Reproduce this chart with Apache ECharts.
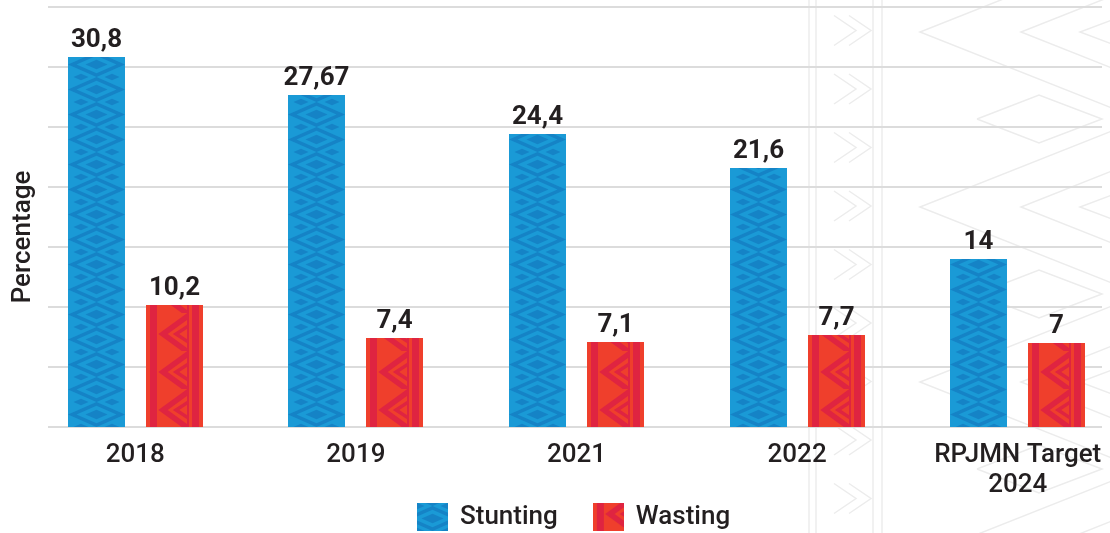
<!DOCTYPE html>
<html><head><meta charset="utf-8">
<script src="https://cdn.jsdelivr.net/npm/echarts@6/dist/echarts.min.js"></script>
<style>html,body{margin:0;padding:0;background:#fff}#c{width:1110px;height:533px}</style>
</head><body><div id="c"></div>
<script>
// ---- data ----
var categories = ['2018', '2019', '2021', '2022', 'RPJMN Target\n2024'];
var stunting = [30.8, 27.67, 24.4, 21.6, 14];
var wasting = [10.2, 7.4, 7.1, 7.7, 7];
var seriesNames = ['Stunting', 'Wasting'];
var yMin = 0, yMax = 35, yInterval = 5;
var yAxisTitle = 'Percentage';

// ---- styles ----
var TEXT = '#231f20';
var FONT = 'Roboto';
var BAR_W = 57, BAR_GAP = 21;

function dia(g, cx, cy, hw, hh, col) {
  g.beginPath(); g.moveTo(cx - hw, cy); g.lineTo(cx, cy - hh); g.lineTo(cx + hw, cy); g.lineTo(cx, cy + hh); g.closePath();
  g.fillStyle = col; g.fill();
}
function blueTile() {
  var c = document.createElement('canvas'); c.width = 57; c.height = 25;
  var g = c.getContext('2d');
  var L = '#1a9ad6', D = '#1583c6';
  g.fillStyle = L; g.fillRect(0, 0, 57, 25);
  dia(g, 28.5, 12.5, 28.5, 12.5, D);
  dia(g, 28.5, 12.5, 20, 8.8, L);
  dia(g, 28.5, 12.5, 11, 4.8, D);
  [0, 25].forEach(function (y) { dia(g, 13, y, 7.5, 3.3, D); dia(g, 44, y, 7.5, 3.3, D); });
  return c;
}
function redTile() {
  var c = document.createElement('canvas'); c.width = 57; c.height = 38;
  var g = c.getContext('2d');
  var B = '#ef3f2c', D = '#df2441';
  g.fillStyle = B; g.fillRect(0, 0, 57, 38);
  g.fillStyle = D; g.fillRect(4, 0, 7, 38); g.fillRect(46, 0, 7, 38); g.fillRect(41, 0, 2, 38);
  g.save(); g.beginPath(); g.rect(0, 0, 42, 38); g.clip();
  g.strokeStyle = D; g.lineJoin = 'miter';
  g.lineWidth = 5.5; g.beginPath(); g.moveTo(46, 0); g.lineTo(17, 21); g.lineTo(46, 42); g.stroke();
  g.lineWidth = 3.5; g.beginPath(); g.moveTo(44, 12); g.lineTo(30, 21); g.lineTo(44, 30); g.stroke();
  g.restore();
  return c;
}
var tiles = { blue: blueTile(), red: redTile() };
var cache = {};
function barImage(kind, w, h) {
  var key = kind + '_' + w + '_' + h;
  if (cache[key]) return cache[key];
  var t = tiles[kind];
  var c = document.createElement('canvas'); c.width = w; c.height = Math.max(h, 1);
  var g = c.getContext('2d');
  for (var y = h - t.height; y > -t.height; y -= t.height) g.drawImage(t, 0, y);
  cache[key] = c;
  return c;
}
function iconURL(kind) {
  var t = tiles[kind];
  var c = document.createElement('canvas'); c.width = 31; c.height = 28;
  var g = c.getContext('2d');
  for (var y = 28 - t.height; y > -t.height; y -= t.height) g.drawImage(t, kind === 'red' ? 0 : -13, y);
  return 'image://' + c.toDataURL();
}
function fmt(v) { return String(v).replace('.', ','); }

function makeRender(kind, side) {
  return function (params, api) {
    var idx = api.value(0), val = api.value(1);
    var top = api.coord([idx, val]);
    var base = api.coord([idx, 0]);
    var cx = top[0] + side * (BAR_W + BAR_GAP) / 2;
    var x = Math.round(cx - BAR_W / 2);
    var y = Math.round(top[1]);
    var h = Math.round(base[1]) - y;
    return {
      type: 'group',
      children: [
        { type: 'image', style: { image: barImage(kind, BAR_W, h), x: x, y: y, width: BAR_W, height: h } },
        { type: 'text', style: {
          text: fmt(val), x: x + BAR_W / 2, y: y - 4,
          align: 'center', verticalAlign: 'bottom', textAlign: 'center', textVerticalAlign: 'bottom',
          font: 'bold 26px ' + FONT, fill: TEXT, textFill: TEXT } }
      ]
    };
  };
}

// ---- background decoration ----
var DEC = '#ececec';
var deco = [];
function pl(points) { deco.push({ type: 'polyline', silent: true, z: -10, shape: { points: points }, style: { stroke: DEC, lineWidth: 1.5, fill: null } }); }
[-143, 32, 207, 382, 557].forEach(function (y0) {
  pl([[1112, y0 - 76], [920, y0], [1112, y0 + 76]]);
  pl([[1112, y0 - 36], [1021, y0], [1112, y0 + 36]]);
  pl([[1112, y0 - 12], [1080, y0], [1112, y0 + 12]]);
});
[119, 294, 469].forEach(function (y) {
  pl([[977, y], [1039, y - 24], [1102, y], [1039, y + 24], [977, y]]);
});
[809, 816, 873, 882].forEach(function (x) { pl([[x, 0], [x, 533]]); });
for (var yy = 30.5; yy < 560; yy += 58.5) {
  pl([[834, yy - 15], [856, yy], [834, yy + 15]]);
  pl([[849, yy - 15], [871, yy], [849, yy + 15]]);
}

var chart = echarts.init(document.getElementById('c'), null, { renderer: 'canvas' });
chart.setOption({
  animation: false,
  backgroundColor: '#fff',
  textStyle: { fontFamily: FONT },
  graphic: deco,
  grid: [
    { left: 25, top: 7, width: 1103, height: 420, containLabel: false, outerBoundsMode: 'none' },
    { left: 48, right: 8, top: 7, height: 420, containLabel: false, outerBoundsMode: 'none' }
  ],
  legend: {
    top: 503, left: 417, padding: 0, itemWidth: 31, itemHeight: 28, itemGap: 35,
    textStyle: { fontSize: 26, fontWeight: 500, color: TEXT, fontFamily: FONT, padding: [0, 0, 0, 7] },
    data: [
      { name: seriesNames[0], icon: iconURL('blue') },
      { name: seriesNames[1], icon: iconURL('red') }
    ]
  },
  xAxis: [
    { gridIndex: 0, type: 'category', data: categories,
      axisLine: { show: false }, axisTick: { show: false },
      axisLabel: { interval: 0, fontSize: 26, fontWeight: 500, color: TEXT, fontFamily: FONT, margin: 13, lineHeight: 30 } },
    { gridIndex: 1, type: 'value', show: false, min: 0, max: 1 }
  ],
  yAxis: [
    { gridIndex: 0, type: 'value', min: yMin, max: yMax, interval: yInterval, show: false },
    { gridIndex: 1, type: 'value', min: yMin, max: yMax, interval: yInterval,
      axisLine: { show: false }, axisTick: { show: false }, axisLabel: { show: false },
      splitLine: { lineStyle: { color: '#dcdcdc', width: 2 } },
      name: yAxisTitle, nameLocation: 'middle', nameGap: 12,
      nameTextStyle: { fontSize: 26, fontWeight: 500, color: TEXT, fontFamily: FONT, padding: [0, 40, 0, 0] } }
  ],
  series: [
    { type: 'custom', name: seriesNames[0], xAxisIndex: 0, yAxisIndex: 0, z: 3,
      data: stunting.map(function (v, i) { return [i, v]; }), encode: { x: 0, y: 1 },
      renderItem: makeRender('blue', -1) },
    { type: 'custom', name: seriesNames[1], xAxisIndex: 0, yAxisIndex: 0, z: 3,
      data: wasting.map(function (v, i) { return [i, v]; }), encode: { x: 0, y: 1 },
      renderItem: makeRender('red', 1) }
  ]
});
</script></body></html>
